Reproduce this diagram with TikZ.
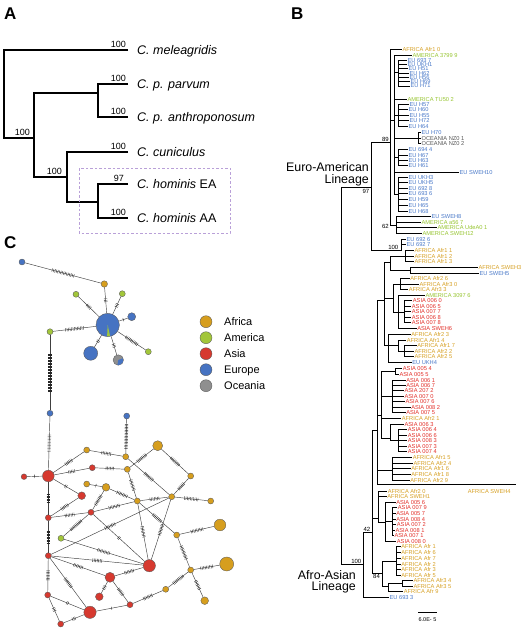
\documentclass[tikz,border=0pt]{standalone}
\usepackage{fontspec}
\setmainfont{Liberation Sans}
\usetikzlibrary{positioning, decorations.markings}

\definecolor{afr}{RGB}{214,158,30}
\definecolor{ame}{RGB}{162,198,58}
\definecolor{asi}{RGB}{214,57,47}
\definecolor{eu}{RGB}{70,115,194}
\definecolor{oce}{RGB}{143,143,143}
\definecolor{afrt}{RGB}{214,160,36}
\definecolor{amet}{RGB}{150,196,48}
\definecolor{asit}{RGB}{226,48,42}
\definecolor{eut}{RGB}{74,121,200}
\definecolor{ocet}{RGB}{85,85,85}
\definecolor{boxc}{RGB}{185,160,216}

\tikzset{
  panel/.style={anchor=north west, inner sep=0pt, font=\bfseries\fontsize{17}{17}\selectfont},
  sptree/.style={line width=2.6pt, line join=miter},
  sp/.style={anchor=base west, inner sep=0pt, font=\fontsize{12.5}{13}\selectfont},
  bsv/.style={anchor=south east, inner sep=0.8pt, font=\fontsize{9}{9}\selectfont},
  br/.style={line width=0.55pt},
  lf/.style={anchor=base west, inner sep=0pt, font=\fontsize{5.7}{5.7}\selectfont},
  bsb/.style={inner sep=0.5pt, font=\fontsize{6}{6}\selectfont},
  lin/.style={align=right, anchor=east, inner sep=0pt, font=\fontsize{12.4}{11.8}\selectfont},
  edge/.style={draw=black!75, line width=0.45pt},
  mut/.style={postaction={decorate, decoration={markings, mark=at position 0.5 with {\foreach \k in {1,...,#1} {\draw[black!85, line width=0.35pt] ({(\k-(#1+1)/2)*1.5pt},-1.7pt) -- ++(0,3.4pt);}}}}},
  hap/.style={circle, draw=black!65, line width=0.35pt, inner sep=0pt, minimum size=#1},
  lgt/.style={anchor=base west, inner sep=0pt, font=\fontsize{11}{11}\selectfont},
}

\begin{document}
\begin{tikzpicture}[x=1pt, y=-1pt]
\useasboundingbox (0,0) rectangle (526,629);

% panel letters
\node[panel] (pA) at (4,8) {A};
\node[panel] (pB) at (291,8) {B};
\node[panel] (pC) at (4,236) {C};

% A: species tree
\draw[sptree] (128,50) -| (4,138) -- (34,138);
\draw[sptree] (98,93) -| (34,177) -- (67,177);
\draw[sptree] (128,84) -| (98,117) -- (128,117);
\draw[sptree] (128,152) -| (67,202) -- (98,202);
\draw[sptree] (128,184) -| (98,218) -- (128,218);

\node[sp] (mel) at (137,54) {\textit{C. meleagridis}};
\node[sp] (par) at (137,88) {\textit{C. p. parvum}};
\node[sp] (ant) at (137,121) {\textit{C. p. anthroponosum}};
\node[sp] (cun) at (137,156) {\textit{C. cuniculus}};
\node[sp] (hea) at (137,188) {\textit{C. hominis} EA};
\node[sp] (haa) at (137,222) {\textit{C. hominis} AA};

\node[bsv] (b1) at (127,48.5) {100};
\node[bsv] (b2) at (127,82.5) {100};
\node[bsv] (b3) at (127,115.5) {100};
\node[bsv] (b4) at (127,150.5) {100};
\node[bsv] (b5) at (125,182.5) {97};
\node[bsv] (b6) at (127,216.5) {100};
\node[bsv] (b7) at (31,136.5) {100};
\node[bsv] (b8) at (63,175.5) {100};

\draw[boxc, line width=0.6pt, dash pattern=on 2.5pt off 2pt] (79,168) rectangle (230,233);

% B: gp60 tree
\foreach \xa/\ya/\yb in {341/187/564, 371/142/250.5, 390/49.3/225, 394/55/194, 398/60/85.8,
    398/104.3/126, 418/132.7/143.7, 398/149.3/165.7, 398/177.7/211, 396/216.7/233.3, 401/239/250.5,
    363/532/597.3, 372/430/573, 377/300/484.3, 384/262/345, 390/256/270, 405/250.7/261.7,
    410/267.3/273.3, 393/284/312, 400/278.7/289.3, 398/295/328.7, 404/300.7/322.7, 388/334/362,
    398/340/351, 404/345.7/356.7, 381/371/438, 395/368.3/374, 392/380/412.7, 390/424/440.7,
    398/429.7/451.7, 392/457.3/480, 378/491.7/522, 385/502.3/541, 392/507.7/535.3, 382/561/586,
    396/546.7/575, 388/583/591.7, 402/580.7/586}
  \draw[br] (\xa,\ya) -- (\xa,\yb);
\foreach \xa/\xb/\yy in {341/371/187, 341/363/564, 371/390/142, 371/401/250.5, 390/394/120,
    394/398/72.5, 394/398/115, 394/418/138.3, 394/398/157.5, 394/398/194, 390/396/225,
    363/372/532, 372/377/430, 377/384/300, 384/390/262, 390/405/256, 390/410/270, 384/393/298,
    393/400/284, 393/404/312, 384/388/345, 388/398/345, 398/404/351, 377/381/415, 381/395/371,
    381/392/396, 381/390/438, 390/398/440.7, 377/392/470, 372/378/518, 378/385/522, 385/392/521,
    372/382/573, 382/396/561, 382/388/586, 388/402/583}
  \draw[br] (\xa,\yy) -- (\xb,\yy);

\foreach \yy/\xn/\xl/\c/\t [count=\i] in {
    49.3/390/403/afrt/AFRICA Afr1 0, 55.0/394/413/amet/AMERICA 3799 9,
    60.0/398/408/eut/EU 693 7, 64.3/398/408/eut/EU UKH1, 68.6/398/409/eut/EU H51,
    72.9/398/410/eut/EU H62, 77.2/398/410/eut/EU H56, 81.5/398/411/eut/EU H69,
    85.8/398/411/eut/EU H71, 99.3/394/408/amet/AMERICA TU50 2, 104.3/398/410/eut/EU H57,
    109.7/398/409/eut/EU H60, 115.3/398/410/eut/EU H55, 120.7/398/410/eut/EU H72,
    126.0/398/409/eut/EU H64, 132.7/418/422/eut/EU H70, 138.3/418/422/ocet/OCEANIA NZ0 1,
    143.7/418/422/ocet/OCEANIA NZ0 2, 149.3/398/409/eut/EU 694 4, 155.0/398/409/eut/EU H67,
    160.3/398/409/eut/EU H63, 165.7/398/409/eut/EU H61, 172.3/394/460/eut/EU SWEH10,
    177.7/398/409/eut/EU UKH3, 182.7/398/409/eut/EU UKH5, 188.3/398/409/eut/EU 692 8,
    193.3/398/409/eut/EU 693 6, 199.0/398/409/eut/EU H59, 205.0/398/409/eut/EU H65,
    211.0/398/409/eut/EU H68, 216.7/396/432/eut/EU SWEH8, 222.0/396/422/amet/AMERICA a56 7,
    227.7/396/438/amet/AMERICA UdeA0 1, 233.3/396/423/amet/AMERICA SWEH12,
    239.0/401/407/eut/EU 692 6, 244.3/401/407/eut/EU 692 7,
    250.7/405/415/afrt/AFRICA Afr1 1, 256.0/405/415/afrt/AFRICA Afr1 2,
    261.7/405/415/afrt/AFRICA Afr1 3, 267.3/410/479/afrt/AFRICA SWEH3, 273.3/410/480/eut/EU SWEH5,
    278.7/400/410.7/afrt/AFRICA Afr2 6, 284.0/400/420/afrt/AFRICA Afr3 0,
    289.3/400/409.3/afrt/AFRICA Afr3 3, 295.0/398/426/amet/AMERICA 3097 6,
    300.7/404/413.3/asit/ASIA 006 0, 306.3/404/412.3/asit/ASIA 006 5, 311.7/404/412.3/asit/ASIA 007 7,
    317.3/404/412.3/asit/ASIA 006 8, 322.7/404/412.3/asit/ASIA 007 8, 328.7/398/417.7/asit/ASIA SWEH6,
    334.0/388/411.7/afrt/AFRICA Afr2 3, 340.0/398/407.3/afrt/AFRICA Afr1 4,
    345.7/404/417.7/afrt/AFRICA Afr1 7, 351.0/404/415/afrt/AFRICA Afr2 2,
    356.7/404/415/afrt/AFRICA Afr2 5, 362.0/388/412.7/eut/EU UKH4,
    368.3/395/403.3/asit/ASIA 005 4, 374.0/395/400/asit/ASIA 005 5, 380.0/392/406.7/asit/ASIA 006 1,
    385.3/392/406.7/asit/ASIA 006 7, 390.7/392/405/asit/ASIA 207 2, 396.0/392/405/asit/ASIA 007 0,
    401.7/392/406/asit/ASIA 007 6, 407.3/392/411.7/asit/ASIA 008 2, 412.7/392/406.7/asit/ASIA 007 5,
    418.7/381/402.3/afrt/AFRICA Afr2 1, 424.0/390/405/asit/ASIA 006 3, 429.7/398/408.3/asit/ASIA 006 4,
    435.3/398/408.3/asit/ASIA 006 6, 440.7/398/408.3/asit/ASIA 008 3, 446.3/398/408.3/asit/ASIA 007 3,
    451.7/398/408.3/asit/ASIA 007 4, 457.3/392/413.3/afrt/AFRICA Afr1 5,
    463.0/392/414/afrt/AFRICA Afr2 4, 468.7/392/411.7/afrt/AFRICA Afr1 6,
    474.3/392/411.7/afrt/AFRICA Afr1 8, 480.0/392/410.7/afrt/AFRICA Afr2 9,
    491.7/378/388.3/afrt/AFRICA Afr2 0, 496.7/378/387.7/afrt/AFRICA SWEH1,
    502.3/385/396.7/asit/ASIA 005 6, 507.7/392/398.3/asit/ASIA 007 9, 513.3/392/396.7/asit/ASIA 005 7,
    519.0/392/396.7/asit/ASIA 008 4, 524.3/392/397.3/asit/ASIA 007 2, 530.0/392/396/asit/ASIA 008 1,
    535.3/392/395/asit/ASIA 007 1, 541.0/385/397.3/asit/ASIA 008 0,
    546.7/396/401.7/afrt/AFRICA Afr 1, 552.3/396/401.7/afrt/AFRICA Afr 6,
    558.3/396/401.7/afrt/AFRICA Afr 7, 564.0/396/401.7/afrt/AFRICA Afr 2,
    569.3/396/401.7/afrt/AFRICA Afr 3, 575.0/396/401.7/afrt/AFRICA Afr 5,
    580.7/402/414/afrt/AFRICA Afr3 4, 586.0/402/414/afrt/AFRICA Afr3 5,
    591.7/388/404.3/afrt/AFRICA Afr 9, 597.3/363/390/eut/EU 693 3}
{
  \draw[br] (\xn,\yy) -- (\xl-1,\yy);
  \node[lf, text=\c] (l\i) at (\xl-0.6,\yy+2.1) {\t};
}
\draw[br] (377,484.3) -- (516,484.3);
\node[lf, text=afrt] (lsweh4) at (467.7,493.8) {AFRICA SWEH4};

\node[bsb, anchor=south east] (s89) at (389.5,142) {89};
\node[bsb, anchor=north east] (s97) at (370,188.5) {97};
\node[bsb, anchor=north east] (s62) at (389.5,223.5) {62};
\node[bsb, anchor=south east] (s100a) at (399,250.5) {100};
\node[bsb, anchor=south east] (s42) at (371,532) {42};
\node[bsb, anchor=south east] (s100b) at (362,564) {100};
\node[bsb, anchor=north west] (s84) at (372.5,573.5) {84};

\node[lin] (eal) at (369,174.2) {Euro-American\\Lineage};
\node[lin] (aal) at (356,581.8) {Afro-Asian\\Lineage};

\coordinate (sb1) at (418,612);
\coordinate (sb2) at (437,612);
\draw[line width=0.8pt] (sb1) -- (sb2);
\node[bsb, font=\fontsize{5.5}{5.5}\selectfont] (sbl) at (427.5,619.5) {6.0E- 5};

% C: haplotype network
\node[hap=6pt, fill=eu] (eu1) at (22,262) {};
\node[hap=6.5pt, fill=afr] (af1) at (104.3,284) {};
\node[hap=6pt, fill=ame] (am1) at (76,294.3) {};
\node[hap=6pt, fill=ame] (am2) at (122.3,293.7) {};
\node[hap=8pt, fill=eu] (eu2) at (131.7,316.7) {};
\node[hap=23.4pt, fill=eu] (hub) at (107.7,325) {};
\node[hap=6pt, fill=ame] (am3) at (148.3,351.7) {};
\node[hap=10.5pt, fill=oce] (pie) at (118.3,360) {};
\node[hap=14pt, fill=eu] (eu3) at (90.7,353.3) {};
\node[hap=6pt, fill=ame] (am4) at (50,331.7) {};
\node[hap=6pt, fill=eu] (eu4) at (50,413.3) {};
\node[hap=6pt, fill=eu] (eu5) at (126.7,416) {};
\fill[ame] (hub.center) -- ([shift={(78:11.3)}]hub.center) arc[start angle=78, end angle=93, radius=11.3] -- cycle;
\fill[eu] (pie.center) -- ([shift={(-20:5)}]pie.center) arc[start angle=-20, end angle=100, radius=5] -- cycle;

\node[hap=11.7pt, fill=asi] (as1) at (48.3,476) {};
\node[hap=5.7pt, fill=asi] (as0) at (24,476.7) {};
\node[hap=10pt, fill=afr] (af2) at (157.7,445.7) {};
\node[hap=6pt, fill=afr] (af3) at (86.7,450) {};
\node[hap=6pt, fill=afr] (af4) at (125.7,456.7) {};
\node[hap=6pt, fill=asi] (as2) at (92.3,467.7) {};
\node[hap=6pt, fill=afr] (af5) at (127.3,469.3) {};
\node[hap=6pt, fill=afr] (af6) at (190.7,476) {};
\node[hap=6pt, fill=afr] (af7) at (86.7,484) {};
\node[hap=7.7pt, fill=afr] (af8) at (106,487.3) {};
\node[hap=7.7pt, fill=asi] (as3) at (81.7,495.7) {};
\node[hap=6pt, fill=afr] (af9) at (137.3,501) {};
\node[hap=6pt, fill=afr] (af10) at (171.7,496.7) {};
\node[hap=6pt, fill=afr] (af11) at (210.7,501) {};
\node[hap=6pt, fill=asi] (as4) at (48.3,517.7) {};
\node[hap=6pt, fill=asi] (as5) at (91,512.3) {};
\node[hap=6pt, fill=ame] (am5) at (61,538.3) {};
\node[hap=11.7pt, fill=afr] (af12) at (220,525) {};
\node[hap=6pt, fill=afr] (af13) at (176.7,535) {};
\node[hap=6pt, fill=asi] (as6) at (48.3,555.7) {};
\node[hap=12.3pt, fill=asi] (as7) at (149.3,565.7) {};
\node[hap=6pt, fill=afr] (af14) at (190.7,570) {};
\node[hap=14pt, fill=afr] (af15) at (226.7,564) {};
\node[hap=10pt, fill=asi] (as8) at (110,577.3) {};
\node[hap=7.7pt, fill=asi] (as9) at (99.3,596.7) {};
\node[hap=6pt, fill=afr] (af16) at (165.7,589.3) {};
\node[hap=6pt, fill=asi] (as10) at (47.7,595) {};
\node[hap=7.7pt, fill=afr] (af17) at (204.7,600.7) {};
\node[hap=6pt, fill=asi] (as11) at (130,604.7) {};
\node[hap=12.3pt, fill=asi] (as12) at (90,612.3) {};
\node[hap=6pt, fill=asi] (as13) at (60.7,624) {};

\foreach \a/\b/\n in {eu1/af1/16, af1/hub/3, am1/hub/4, am2/hub/3, eu2/hub/1, am3/hub/10,
    pie/hub/3, eu3/hub/2, am4/hub/13, am4/eu4/26, eu4/as1/12,
    as0/as1/1, as1/af3/6, as1/as2/5, as1/as3/2, as1/as4/6, eu5/af4/17, af3/af4/7, as2/af5/6,
    af2/af5/8, af2/af6/8, af6/af10/6, af4/af10/8, af5/af9/8, af7/af8/1, af8/af9/8, af8/as5/8,
    as3/as4/6, as4/as5/7, as5/af9/8, af9/af10/7, af10/af11/10, as4/as6/9, am5/as5/10,
    am5/as7/9, as5/as7/2, af9/as7/8, af10/as7/8, as6/af10/8, af9/af13/8, af13/af12/9,
    af13/af14/10, af14/af15/9, af14/af17/7, af14/af16/9, af16/as11/7, as6/as7/7, as6/as8/7,
    as8/as7/7, as8/as9/3, as8/as11/6, as6/as10/7, as6/as12/8, as10/as12/2, as10/as13/3,
    as13/as12/3, as12/as11/1}
  \draw[edge, mut=\n] (\a) -- (\b);

% legend
\foreach \c/\t [count=\i] in {afr/Africa, ame/America, asi/Asia, eu/Europe, oce/Oceania} {
  \node[hap=12pt, fill=\c] (lg\i) at (206,305.7+16*\i) {};
  \node[lgt] (lt\i) at (224,309.7+16*\i) {\t};
}
\end{tikzpicture}
\end{document}
